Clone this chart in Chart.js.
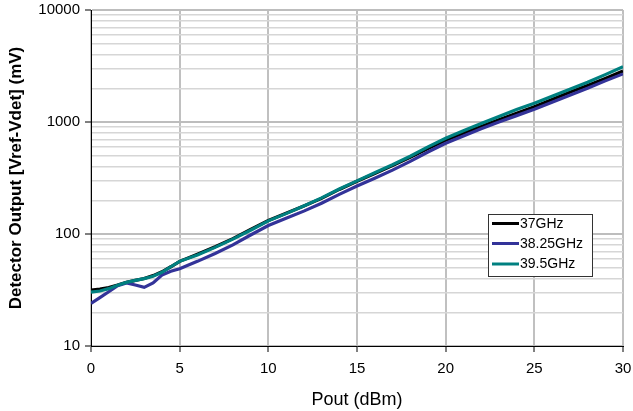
<!DOCTYPE html>
<html>
<head>
<meta charset="utf-8">
<script src="https://cdn.jsdelivr.net/npm/chart.js@4/dist/chart.umd.min.js"></script>
<style>
  body { margin: 0; background: #fff; }
  canvas { display: block; }
</style>
</head>
<body>
<canvas id="graph" width="633" height="411"></canvas>
<script>
// Pout (dBm)
let pout = [0, 0.5, 1, 1.5, 2, 2.5, 3, 3.5, 4, 4.5, 5, 6, 7, 8, 9, 10, 11, 12, 13, 14, 15,
  16, 17, 18, 19, 20, 21, 22, 23, 24, 25, 26, 27, 28, 29, 30]
// Detector output (mV)
let ghz37 = [31.6, 32.3, 33.3, 35, 37, 38.5, 40, 42.5, 46, 51, 57, 66, 77, 91, 110, 132, 153, 178, 208, 250, 296,
  347, 408, 485, 580, 688, 795, 910, 1045, 1200, 1370, 1590, 1840, 2120, 2450, 2850]
let ghz3825 = [24, 27, 30.5, 34.5, 36.5, 35, 33.4, 36.5, 43, 46.5, 49, 57, 67, 80, 98, 119, 138, 160, 188, 226, 268,
  315, 372, 445, 540, 645, 750, 870, 1000, 1140, 1297, 1500, 1730, 2000, 2330, 2690]
let ghz395 = [30.2, 31, 32.5, 34.8, 37, 38.5, 40, 42, 45.5, 51, 57, 65, 76, 90, 108, 131, 152, 178, 210, 252, 298,
  352, 415, 495, 600, 715, 835, 970, 1120, 1290, 1470, 1700, 1960, 2260, 2650, 3120]
let nombres = ['37GHz', '38.25GHz', '39.5GHz']
let colores = ['#000000', '#333399', '#008080']
let orden = [2, 1, 0]
let xTicks = [0, 5, 10, 15, 20, 25, 30]
let yDecadas = [10, 100, 1000, 10000]

let yTicks = []
for (let d = 0; d < yDecadas.length - 1; d++) {
  for (let m = 1; m < 10; m++) yTicks.push(yDecadas[d] * m)
}
yTicks.push(yDecadas[yDecadas.length - 1])

const series = [ghz37, ghz3825, ghz395]
const fuente = "'Liberation Sans', Arial, sans-serif"

const data = {
  datasets: series.map(function (s, k) {
    return {
      label: nombres[k],
      data: pout.map(function (x, i) { return { x: x, y: s[i] } }),
      borderColor: colores[k],
      backgroundColor: colores[k],
      borderWidth: 3.2,
      pointRadius: 0,
      tension: 0,
      order: orden[k]
    }
  })
}

// legend box drawn inside the plot
const legendaBox = {
  id: 'legendaBox',
  afterDraw(chart) {
    const ctx = chart.ctx
    const bx = 488, by = 214, bw = 104, bh = 62
    ctx.save()
    ctx.fillStyle = '#fff'
    ctx.fillRect(bx, by, bw, bh)
    ctx.strokeStyle = '#333'
    ctx.lineWidth = 1
    ctx.strokeRect(bx + 0.5, by + 0.5, bw, bh)
    const filas = [223.5, 243.5, 264]
    ctx.font = '14px ' + fuente
    ctx.textBaseline = 'middle'
    nombres.forEach(function (n, k) {
      ctx.strokeStyle = colores[k]
      ctx.lineWidth = 3
      ctx.beginPath()
      ctx.moveTo(492, filas[k])
      ctx.lineTo(519, filas[k])
      ctx.stroke()
      ctx.fillStyle = '#000'
      ctx.fillText(n, 520, filas[k] + 0.5)
    })
    ctx.restore()
  }
}

const config = {
  type: 'line',
  data: data,
  options: {
    responsive: false,
    animation: false,
    layout: { padding: { left: 0, right: 10, top: 10, bottom: 0 } },
    plugins: {
      legend: { display: false },
      tooltip: { enabled: false }
    },
    scales: {
      x: {
        type: 'linear',
        min: 0,
        max: 30,
        afterBuildTicks: function (scale) {
          scale.ticks = xTicks.map(function (v) { return { value: v } })
        },
        afterFit: function (scale) {
          scale.height = 65
          scale.paddingLeft = 0
          scale.paddingRight = 0
        },
        ticks: {
          color: '#000',
          font: { size: 15, family: fuente },
          padding: 8,
          maxRotation: 0
        },
        grid: {
          color: '#c0c0c0',
          lineWidth: 2,
          tickColor: '#000',
          tickLength: 6,
          tickWidth: 1
        },
        border: { color: '#000', width: 1 },
        title: {
          display: true,
          text: 'Pout (dBm)',
          color: '#000',
          font: { size: 18, family: fuente },
          padding: { top: 1, bottom: 0 }
        }
      },
      y: {
        type: 'logarithmic',
        min: 10,
        max: 10000,
        afterBuildTicks: function (scale) {
          scale.ticks = yTicks.map(function (v) { return { value: v } })
        },
        afterFit: function (scale) {
          scale.width = 91
          scale.paddingTop = 0
          scale.paddingBottom = 0
        },
        ticks: {
          autoSkip: false,
          color: '#000',
          font: { size: 15, family: fuente },
          padding: 5,
          callback: function (v) {
            return yDecadas.indexOf(v) >= 0 ? String(v) : ''
          }
        },
        grid: {
          color: function (c) {
            return yDecadas.indexOf(c.tick.value) >= 0 ? '#bdbdbd' : '#d6d6d6'
          },
          lineWidth: function (c) {
            return yDecadas.indexOf(c.tick.value) >= 0 ? 2 : 1.5
          },
          tickColor: function (c) {
            return yDecadas.indexOf(c.tick.value) >= 0 ? '#000' : 'rgba(0,0,0,0)'
          },
          tickLength: 6,
          tickWidth: 1
        },
        border: { color: '#000', width: 1 },
        title: {
          display: true,
          text: 'Detector Output [Vref-Vdet] (mV)',
          color: '#000',
          font: { size: 17, weight: 'bold', family: fuente },
          padding: { top: 6, bottom: 0 }
        }
      }
    }
  },
  plugins: [legendaBox]
}

const myChart = new Chart(
  document.getElementById('graph'),
  config
)
</script>
</body>
</html>
